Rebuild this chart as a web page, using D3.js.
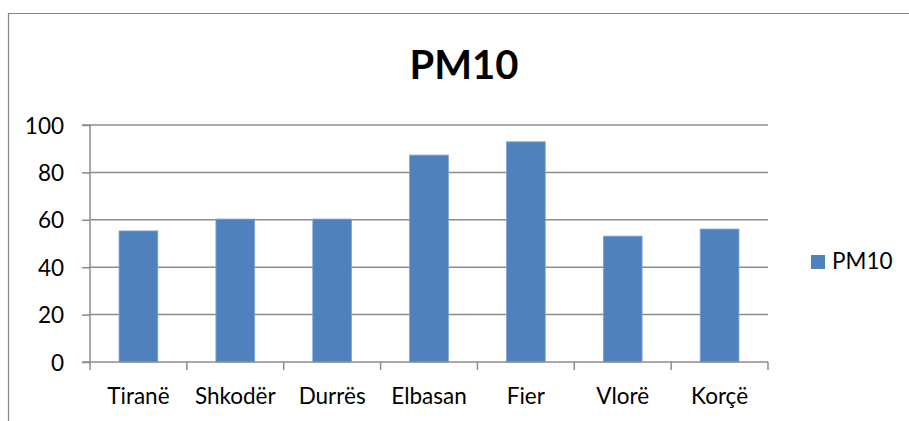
<!DOCTYPE html>
<html><head><meta charset="utf-8">
<script src="https://cdn.jsdelivr.net/npm/d3@7"></script>
<style>body{margin:0;background:#fff}svg{display:block}</style>
</head><body>
<script>
const categories = ["Tiranë","Shkodër","Durrës","Elbasan","Fier","Vlorë","Korçë"];
const pm10 = [55.3, 60.3, 60.3, 87.3, 92.9, 53.1, 56.1];
const yTicks = [0,20,40,60,80,100];
const seriesName = "PM10";
const titleText = "PM10";

const W = 909, H = 421;
const font = "Lato, 'Open Sans', sans-serif";
const fs = 22.5;
const svg = d3.select("body").append("svg").attr("width", W).attr("height", H);

// outer chart border
svg.append("path").attr("d", `M8.5,${H}V13.5H${W}`).attr("fill","none").attr("stroke","#868686").attr("stroke-width",1.2);

const plot = {left:90, right:768, top:125, bottom:362};
const x = d3.scaleBand().domain(categories).range([plot.left, plot.right]).paddingInner(0.6).paddingOuter(0.3);
const y = d3.scaleLinear().domain([0,100]).range([plot.bottom, plot.top]);

// gridlines
svg.append("g").selectAll("line").data(yTicks.filter(d=>d>0)).join("line")
  .attr("x1", plot.left).attr("x2", plot.right)
  .attr("y1", d=>y(d)).attr("y2", d=>y(d))
  .attr("stroke","#8c8c8c").attr("stroke-width",1.5);

// bars
svg.append("g").selectAll("rect").data(categories).join("rect")
  .attr("x", d=>x(d)).attr("width", x.bandwidth())
  .attr("y", (d,i)=>y(pm10[i])).attr("height", (d,i)=>y(0)-y(pm10[i]))
  .attr("fill","#4f81bd").attr("stroke","#7da3d3").attr("stroke-width",0.8);

// y axis
const yAxis = d3.axisLeft(y).tickValues(yTicks).tickSize(8).tickPadding(18).tickFormat(d3.format("d"));
const gy = svg.append("g").attr("transform",`translate(${plot.left},0)`).call(yAxis);
gy.select(".domain").attr("stroke","#8c8c8c").attr("stroke-width",1.5).attr("d",`M-8,${plot.top}H0V${plot.bottom}H-8`);
gy.selectAll(".tick line").attr("stroke","#8c8c8c").attr("stroke-width",1.5);
gy.selectAll(".tick text").attr("font-family",font).attr("font-size",fs).attr("fill","#000").attr("dy","0.36em");

// x axis
const xAxis = d3.axisBottom(x).tickSize(0).tickPadding(0);
const gx = svg.append("g").attr("transform",`translate(0,${plot.bottom})`).call(xAxis);
gx.select(".domain").attr("stroke","#8c8c8c").attr("stroke-width",1.5).attr("d",`M${plot.left},0H${plot.right}`);
gx.selectAll(".tick text").attr("font-family",font).attr("font-size",fs).attr("fill","#000").attr("y",42).attr("dy",0);
// category boundary ticks
const bounds = d3.range(categories.length+1).map(i=>plot.left + i*x.step());
gx.append("g").selectAll("line").data(bounds).join("line")
  .attr("x1",d=>d).attr("x2",d=>d).attr("y1",0).attr("y2",8)
  .attr("stroke","#8c8c8c").attr("stroke-width",1.5);

// title
svg.append("text").attr("x", 464).attr("y", 79).attr("text-anchor","middle")
  .attr("font-family",font).attr("font-weight","bold").attr("font-size",40).attr("fill","#000").text(titleText);

// legend
const lg = svg.append("g");
lg.append("rect").attr("x",811).attr("y",255).attr("width",14).attr("height",14).attr("fill","#4f81bd");
lg.append("text").attr("x",832).attr("y",269).attr("font-family",font).attr("font-size",fs).attr("fill","#000").text(seriesName);
</script>
</body></html>
